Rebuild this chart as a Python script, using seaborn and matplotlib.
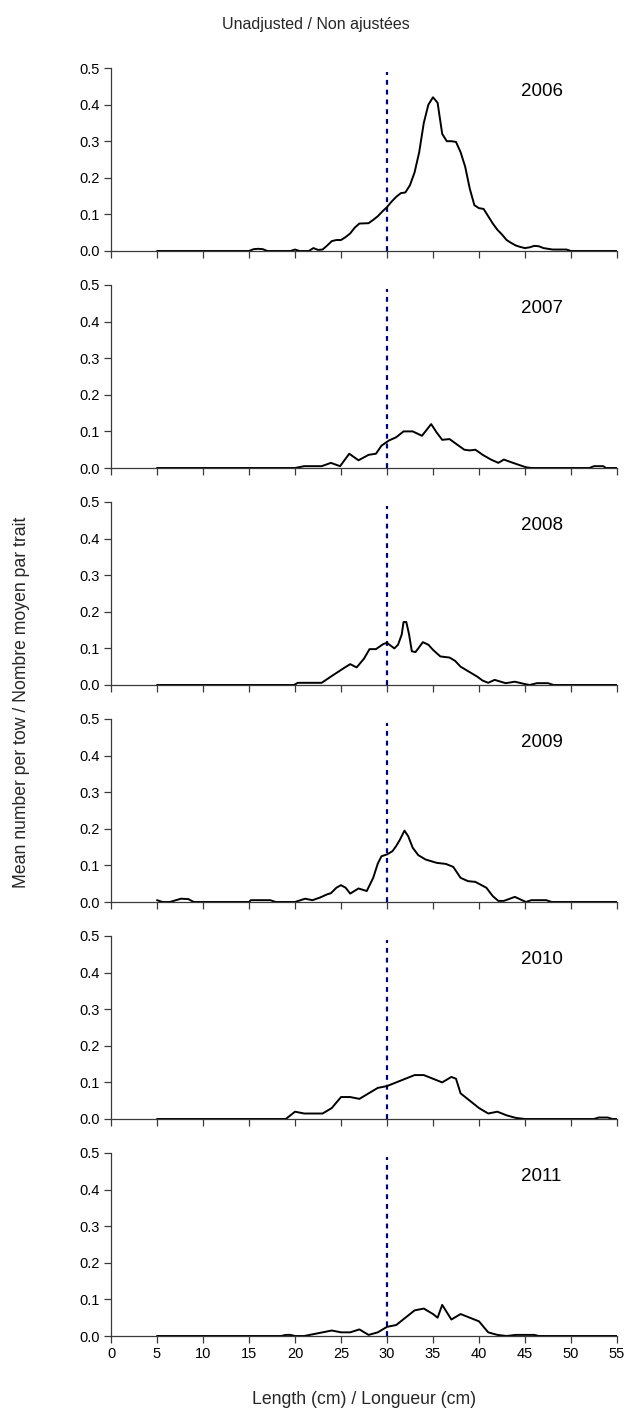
import numpy as np
import pandas as pd
import matplotlib
matplotlib.use("Agg")
import matplotlib.pyplot as plt
import seaborn as sns

# ---- data (length in cm, mean number per tow) ----
years = ["2006", "2007", "2008", "2009", "2010", "2011"]

len_2006 = [5, 15, 15.5, 16, 16.5, 17, 19.5, 20, 20.5, 21.5, 22, 22.5, 23, 23.5, 24, 24.5, 25, 25.5,
            26, 26.5, 27, 28, 28.5, 29, 29.5, 30, 30.5, 31, 31.5, 32, 32.5, 33, 33.5, 34, 34.5, 35,
            35.5, 36, 36.5, 37, 37.5, 38, 38.5, 39, 39.5, 40, 40.5, 41, 41.5, 42, 42.5, 43, 43.5, 44,
            44.5, 45, 45.5, 46, 46.5, 47, 48, 49, 49.5, 50, 55]
val_2006 = [0, 0, 0.005, 0.006, 0.005, 0, 0, 0.004, 0, 0, 0.008, 0.003, 0.004, 0.015, 0.027, 0.03,
            0.03, 0.038, 0.048, 0.064, 0.075, 0.076, 0.085, 0.095, 0.108, 0.12, 0.135, 0.148, 0.158,
            0.16, 0.18, 0.215, 0.27, 0.35, 0.40, 0.42, 0.405, 0.32, 0.30, 0.30, 0.298, 0.27, 0.23,
            0.17, 0.125, 0.117, 0.115, 0.095, 0.075, 0.058, 0.045, 0.03, 0.022, 0.015, 0.011, 0.008,
            0.01, 0.014, 0.013, 0.008, 0.004, 0.004, 0.004, 0, 0]

len_2007 = [5, 20, 21, 22.9, 23.9, 24.9, 25.9, 26.9, 28, 28.8, 29.4, 30.2, 31, 31.8, 32.8, 33.8, 34.8,
            35.4, 36, 36.8, 37.4, 38.4, 39, 39.6, 40.4, 41.3, 42.1, 42.7, 43.7, 45.1, 45.7, 52, 52.5,
            53.5, 53.8, 55]
val_2007 = [0, 0, 0.005, 0.005, 0.014, 0.005, 0.039, 0.021, 0.036, 0.039, 0.061, 0.075, 0.084, 0.10,
            0.10, 0.088, 0.12, 0.097, 0.077, 0.079, 0.068, 0.05, 0.048, 0.05, 0.036, 0.023, 0.014,
            0.023, 0.014, 0.002, 0, 0, 0.005, 0.005, 0, 0]

len_2008 = [5, 19.9, 20.3, 22.9, 23.9, 25.3, 26, 26.7, 27.5, 28.1, 28.8, 29.6, 30, 30.8, 31.2, 31.6,
            31.8, 32.1, 32.4, 32.7, 33.1, 33.9, 34.5, 35, 35.8, 36.8, 37.4, 38, 39, 39.8, 40.4, 41,
            41.7, 42.9, 43.9, 44.9, 45.5, 46.3, 47.5, 48.1, 55]
val_2008 = [0, 0, 0.006, 0.006, 0.023, 0.046, 0.057, 0.048, 0.072, 0.098, 0.098, 0.112, 0.115, 0.10,
            0.11, 0.138, 0.172, 0.172, 0.138, 0.092, 0.09, 0.117, 0.11, 0.096, 0.078, 0.075, 0.066,
            0.05, 0.035, 0.023, 0.012, 0.006, 0.014, 0.005, 0.009, 0.003, 0, 0.005, 0.005, 0, 0]

len_2009 = [5, 5.6, 6.4, 7.6, 8.4, 9, 15, 15.2, 17.3, 17.9, 20, 21.1, 21.9, 22.7, 23.5, 23.9, 24.5, 25,
            25.5, 26, 26.9, 27.8, 28.5, 29, 29.4, 30, 30.6, 31, 31.4, 31.9, 32.3, 32.8, 33.4, 34.2,
            35.4, 36.4, 37.2, 38, 38.8, 39.6, 40.8, 41.5, 42.1, 42.7, 43.9, 45.1, 45.7, 47.3, 47.9, 55]
val_2009 = [0.005, 0, 0, 0.009, 0.008, 0, 0, 0.005, 0.005, 0, 0, 0.009, 0.005, 0.012, 0.021, 0.024,
            0.039, 0.046, 0.039, 0.023, 0.037, 0.03, 0.066, 0.105, 0.125, 0.13, 0.139, 0.153, 0.17,
            0.195, 0.18, 0.148, 0.128, 0.116, 0.107, 0.104, 0.096, 0.066, 0.057, 0.055, 0.039, 0.016,
            0.003, 0.003, 0.014, 0, 0.005, 0.005, 0, 0]

len_2010 = [5, 19, 19.5, 20, 21, 23, 24, 25, 26, 27, 28, 29, 30, 31, 32, 33, 34, 35, 36, 37, 37.5, 38,
            39, 40, 41, 42, 43, 44, 45, 52.5, 53, 54, 54.5, 55]
val_2010 = [0, 0, 0.01, 0.02, 0.015, 0.015, 0.03, 0.06, 0.06, 0.055, 0.07, 0.085, 0.09, 0.1, 0.11,
            0.12, 0.12, 0.11, 0.1, 0.115, 0.11, 0.07, 0.05, 0.03, 0.015, 0.02, 0.01, 0.003, 0, 0,
            0.004, 0.004, 0, 0]

len_2011 = [5, 18.5, 19, 19.5, 20, 21, 22, 23, 24, 25, 26, 27, 28, 29, 30, 31, 32, 33, 34, 35, 35.5,
            36, 37, 38, 39, 40, 41, 42, 43, 44, 46, 46.5, 55]
val_2011 = [0, 0, 0.003, 0.003, 0, 0, 0.005, 0.01, 0.015, 0.01, 0.01, 0.018, 0.003, 0.01, 0.025, 0.03,
            0.05, 0.07, 0.075, 0.06, 0.05, 0.085, 0.045, 0.06, 0.05, 0.04, 0.01, 0.003, 0, 0.003,
            0.003, 0, 0]

lengths = [len_2006, len_2007, len_2008, len_2009, len_2010, len_2011]
values = [val_2006, val_2007, val_2008, val_2009, val_2010, val_2011]

x_ticks = list(range(0, 60, 5))
y_ticks = [0.0, 0.1, 0.2, 0.3, 0.4, 0.5]
ref_length = 30

title = "Unadjusted / Non ajustées"
xlabel = "Length (cm) / Longueur (cm)"
ylabel = "Mean number per tow / Nombre moyen par trait"

# ---- style ----
sns.set_theme(style="ticks")
plt.rcParams["font.family"] = ["Liberation Sans", "DejaVu Sans"]

W, H = 631, 1424
fig = plt.figure(figsize=(W / 100, H / 100), dpi=100)

left_px, right_px = 111, 617
top0_px, panel_h_px, step_px = 68, 183, 217
axis_col = "#3a3a3a"

for k, (yr, xs, ys) in enumerate(zip(years, lengths, values)):
    top = top0_px + k * step_px
    ax = fig.add_axes([left_px / W, 1 - (top + panel_h_px) / H,
                       (right_px - left_px) / W, panel_h_px / H])
    df = pd.DataFrame({"length": xs, "n": ys})
    sns.lineplot(data=df, x="length", y="n", ax=ax, color="black", lw=1.4,
                 estimator=None, sort=False)
    ax.plot([ref_length, ref_length], [0, 0.49], color="#000080", lw=1.6,
            linestyle=(0, (2.2, 2.2)), zorder=1)
    ax.set_xlim(0, 55)
    ax.set_ylim(0, 0.5)
    ax.set_xticks(x_ticks)
    ax.set_yticks(y_ticks)
    ax.set_yticklabels([f"{v:.1f}" for v in y_ticks], fontsize=10.5)
    if k < len(years) - 1:
        ax.set_xticklabels([])
    else:
        ax.set_xticklabels([str(v) for v in x_ticks], fontsize=10.5)
    ax.set_xlabel("")
    ax.set_ylabel("")
    for s in ["top", "right"]:
        ax.spines[s].set_visible(False)
    for s in ["left", "bottom"]:
        ax.spines[s].set_color(axis_col)
        ax.spines[s].set_linewidth(0.9)
    ax.tick_params(axis="both", direction="out", length=5, width=0.9, color=axis_col,
                   labelcolor="black", pad=3)
    ax.patch.set_alpha(0)
    ax.text(46.8, 0.435, yr, fontsize=13.5, ha="center", va="center", color="black")

fig.text(0.5, 1 - 25 / H, title, ha="center", va="center", fontsize=11.5)
fig.text((left_px + right_px) / 2 / W, 1 - 1400 / H, xlabel, ha="center", va="center", fontsize=12.7)
fig.text(22 / W, 1 - 702 / H, ylabel, ha="center", va="center", rotation=90, fontsize=12.7)

fig.savefig("out.png", dpi=100)
